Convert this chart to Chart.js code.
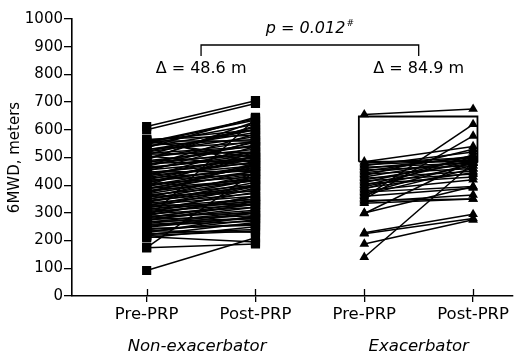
<!DOCTYPE html>
<html>
<head>
<meta charset="utf-8">
<script src="https://cdn.jsdelivr.net/npm/chart.js@4.4.0/dist/chart.umd.min.js"></script>
<style>
  html, body { margin: 0; padding: 0; background: #fff; }
  #wrap { width: 519px; height: 354px; }
</style>
</head>
<body>
<div id="wrap"><canvas id="chart" width="519" height="354"></canvas></div>
<script>
// tick labels and group names
var tickLabels = ["Pre-PRP", "Post-PRP", "Pre-PRP", "Post-PRP"];
var groupNames = ["Non-exacerbator", "Exacerbator"];
var deltaLabels = ["\u0394 = 48.6 m", "\u0394 = 84.9 m"];

// non-exacerbator pairs (6MWD, meters)
var nonPre = [612, 600, 565, 565, 560, 555, 548, 540, 535, 528, 520, 515, 510, 505, 498, 492, 488, 482, 476, 470,
  465, 460, 455, 450, 446, 440, 435, 430, 425, 420, 416, 410, 405, 400, 396, 390, 385, 380, 376, 370,
  365, 360, 355, 350, 345, 340, 335, 330, 325, 320, 315, 310, 305, 300, 296, 292, 288, 284, 280, 276,
  276, 272, 268, 262, 255, 248, 240, 232, 225, 218, 210, 175, 174, 92,
  562, 558, 552, 544, 530, 522, 512, 502, 495, 485, 478, 468, 458, 448, 438, 428, 418, 408, 398, 388,
  378, 368, 358, 348, 338, 328, 318, 308, 298, 290, 282, 274, 266, 258, 250, 244, 236, 228, 220, 214];
var nonPost = [705, 695, 580, 480, 560, 640, 620, 600, 645, 590, 575, 540, 610, 470, 560, 630, 530, 545, 520, 585,
  500, 510, 490, 560, 480, 505, 470, 540, 455, 495, 460, 470, 430, 520, 450, 440, 470, 415, 425, 480,
  400, 420, 440, 395, 380, 410, 370, 360, 400, 350, 340, 375, 330, 345, 320, 360, 300, 330, 310, 290,
  640, 335, 280, 300, 270, 285, 260, 275, 240, 235, 250, 450, 188, 210,
  600, 500, 635, 565, 555, 600, 520, 540, 615, 510, 490, 555, 520, 450, 500, 485, 440, 505, 465, 420,
  450, 430, 380, 420, 400, 330, 395, 350, 390, 360, 340, 320, 305, 280, 300, 255, 230, 290, 265, 195];

// exacerbator pairs
var exPre = [655, 485, 480, 475, 470, 465, 460, 455, 450, 445, 440, 435, 430, 425, 420, 415, 410, 405, 400, 395,
  390, 385, 380, 375, 370, 365, 360, 355, 350, 345, 340, 335, 300, 298, 228, 225, 188, 140];
var exPost = [675, 540, 500, 490, 520, 480, 500, 470, 505, 485, 460, 530, 495, 450, 480, 440, 500, 430, 490, 470,
  445, 510, 420, 395, 480, 460, 390, 620, 578, 350, 365, 350, 395, 490, 295, 280, 275, 480];

// box drawn over the exacerbator group
var boxX = [2.95, 2.95, 4.04, 4.04, 2.95];
var boxY = [485, 648, 648, 485, 485];

var FONT = "'DejaVu Sans', sans-serif";

var datasets = [];
function addPairs(pre, post, x0, style, r) {
  for (var i = 0; i < pre.length; i++) {
    datasets.push({
      data: [{x: x0, y: pre[i]}, {x: x0 + 1, y: post[i]}],
      showLine: true,
      borderColor: "#000",
      borderWidth: 1.5,
      backgroundColor: "#000",
      pointStyle: style,
      pointRadius: r,
      pointBorderWidth: 0
    });
  }
}
addPairs(nonPre, nonPost, 1, "rect", 6.5);
addPairs(exPre, exPost, 3, "triangle", 5.6);

var boxPts = [];
for (var i = 0; i < boxX.length; i++) boxPts.push({x: boxX[i], y: boxY[i]});
datasets.push({
  data: boxPts,
  showLine: true,
  borderColor: "#000",
  borderWidth: 1.8,
  pointRadius: 0
});

var annot = {
  id: "annot",
  afterDraw: function(chart) {
    var ctx = chart.ctx;
    var xs = chart.scales.x, ys = chart.scales.y;
    ctx.save();
    ctx.strokeStyle = "#000";
    ctx.fillStyle = "#000";
    // inner part of x tick marks
    ctx.lineWidth = 1.3;
    var yAxis = ys.getPixelForValue(0);
    for (var k = 1; k <= 4; k++) {
      var px = Math.round(xs.getPixelForValue(k)) + 0.5;
      ctx.beginPath();
      ctx.moveTo(px, yAxis - 7);
      ctx.lineTo(px, yAxis);
      ctx.stroke();
    }
    // group names
    ctx.font = "italic 16.5px " + FONT;
    ctx.textAlign = "center";
    ctx.textBaseline = "alphabetic";
    ctx.fillText(groupNames[0], xs.getPixelForValue(1.5) - 4, 351);
    ctx.fillText(groupNames[1], xs.getPixelForValue(3.5), 351);
    // bracket
    var bx1 = xs.getPixelForValue(1.5), bx2 = xs.getPixelForValue(3.5);
    ctx.lineWidth = 1.3;
    ctx.beginPath();
    ctx.moveTo(bx1, 56);
    ctx.lineTo(bx1, 45);
    ctx.lineTo(bx2, 45);
    ctx.lineTo(bx2, 56);
    ctx.stroke();
    // deltas
    ctx.font = "16px " + FONT;
    ctx.textBaseline = "middle";
    ctx.fillText(deltaLabels[0], bx1, 69);
    ctx.fillText(deltaLabels[1], bx2, 69);
    // p value
    var pText = "p = 0.012";
    ctx.font = "italic 16px " + FONT;
    var w = ctx.measureText(pText).width;
    ctx.font = "italic 9px " + FONT;
    var w2 = ctx.measureText("#").width;
    var cx = (bx1 + bx2) / 2;
    var sx = cx - (w + w2 + 1) / 2;
    ctx.textAlign = "left";
    ctx.font = "italic 16px " + FONT;
    ctx.fillText(pText, sx, 29);
    ctx.font = "italic 9px " + FONT;
    ctx.fillText("#", sx + w + 1, 24);
    ctx.restore();
  }
};

new Chart(document.getElementById("chart"), {
  type: "scatter",
  data: { datasets: datasets },
  options: {
    responsive: false,
    animation: false,
    layout: { padding: { top: 19, right: 0, left: 0, bottom: 0 } },
    plugins: { legend: { display: false }, tooltip: { enabled: false } },
    scales: {
      x: {
        type: "linear",
        min: 0.314,
        max: 4.362,
        afterBuildTicks: function(scale) {
          scale.ticks = [{value: 1}, {value: 2}, {value: 3}, {value: 4}];
        },
        afterFit: function(scale) { scale.height = 58; },
        grid: { drawOnChartArea: false, drawTicks: true, tickLength: 6, color: "#000", lineWidth: 1.3 },
        border: { color: "#000", width: 1.6 },
        ticks: {
          color: "#000",
          font: { family: FONT, size: 16.5 },
          padding: 3,
          maxRotation: 0,
          autoSkip: false,
          callback: function(v) { return tickLabels[Math.round(v) - 1]; }
        }
      },
      y: {
        min: 0,
        max: 1000,
        afterFit: function(scale) { scale.width = 72; },
        grid: { drawOnChartArea: false, drawTicks: true, tickLength: 8, color: "#000", lineWidth: 1.3 },
        border: { color: "#000", width: 1.6 },
        ticks: {
          stepSize: 100,
          color: "#000",
          font: { family: FONT, size: 15 },
          padding: 1,
          callback: function(v) { return String(v); }
        },
        title: {
          display: true,
          text: "6MWD, meters",
          color: "#000",
          font: { family: FONT, size: 15 },
          padding: { top: 6, bottom: 0 }
        }
      }
    }
  },
  plugins: [annot]
});
</script>
</body>
</html>
